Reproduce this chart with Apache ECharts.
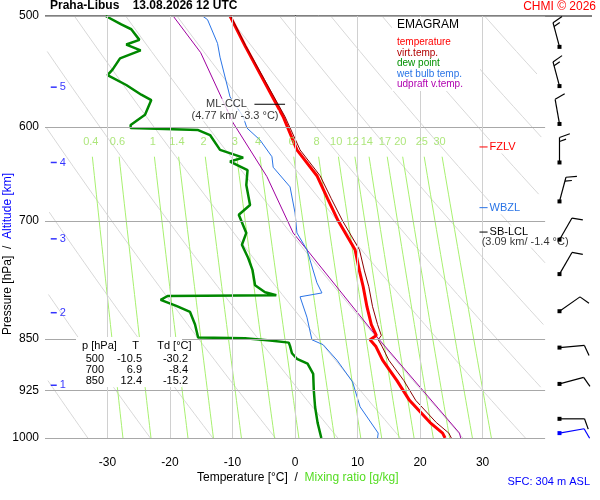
<!DOCTYPE html>
<html>
<head>
<meta charset="utf-8">
<script src="https://cdn.jsdelivr.net/npm/echarts@6/dist/echarts.min.js"></script>
<style>html,body{margin:0;padding:0;background:#fff}#main{width:600px;height:500px}</style>
</head>
<body>
<div id="main"></div>
<script>
// pressure levels [hPa] and profiles [°C]
var tempP = [1000, 992, 975, 940, 910, 880, 860, 851, 845, 830, 806, 780, 760, 734, 700, 675, 650, 623, 590, 555, 525, 500];
var tempT = [24.0, 23.6, 21.6, 18.3, 16.3, 14.0, 12.9, 12.0, 13.0, 12.2, 11.5, 10.9, 10.3, 9.6, 6.9, 5.2, 3.5, 0.3, -1.9, -5.1, -8.0, -10.4];
var virtT = [25.0, 24.6, 22.6, 19.3, 17.4, 15.0, 13.9, 13.3, 13.8, 13.2, 12.4, 11.8, 11.1, 10.3, 7.6, 5.8, 4.0, 0.8, -1.6, -4.9, -7.9, -10.3];

var dewP = [1000, 975, 950, 925, 900, 885, 878, 870, 860, 855, 852, 849, 848, 830, 813, 805, 797, 792, 791, 787, 778, 759, 744, 728, 714, 693, 682, 660, 644, 635, 631, 623, 608, 603, 601, 598, 588, 574, 569, 560, 551, 546, 536, 529, 524, 520, 511, 507, 500];
var dewT = [4.2, 3.6, 3.2, 3.0, 2.9, 2.0, 0.3, -0.5, -0.8, -1.0, -4.0, -8.0, -15.5, -16.0, -16.8, -19.0, -21.5, -20.4, -3.0, -4.8, -6.4, -6.8, -7.5, -8.5, -7.8, -9.0, -7.2, -7.8, -7.6, -10.4, -8.3, -12.0, -13.6, -15.5, -26.3, -26.3, -24.0, -23.0, -24.6, -27.0, -30.0, -29.2, -28.0, -24.7, -27.0, -24.9, -26.2, -27.8, -30.3];

var wbP = [1000, 992, 950, 912, 880, 858, 851, 820, 793, 788, 775, 734, 714, 691, 662, 641, 630, 613, 601, 590, 571, 535, 523, 503, 500];
var wbT = [13.2, 13.3, 10.4, 9.2, 6.7, 4.5, 2.7, 1.9, 0.8, 4.3, 3.5, 1.9, 0.3, 0.0, -0.8, -3.5, -3.7, -5.6, -7.7, -8.3, -10.4, -12.0, -12.4, -14.0, -14.8];

var parcelP = [1000, 992, 847, 734, 714, 651, 596, 531, 500];
var parcelT = [26.5, 26.3, 13.1, 1.9, -0.3, -4.5, -9.9, -15.1, -19.5];

// wind barbs: pressure, direction [deg], speed [kt]
var windP = [526, 561, 597, 636, 678, 722, 764, 812, 862, 915, 969, 992];
var windDir = [345, 345, 350, 0, 15, 30, 30, 55, 85, 75, 90, 80];
var windSpd = [15, 15, 10, 15, 15, 10, 10, 10, 10, 10, 10, 10];

var pressureTicks = [500, 600, 700, 850, 925, 1000];
var tempTicks = [-30, -20, -10, 0, 10, 20, 30];
var mixRatios = [0.4, 0.6, 1, 1.4, 2, 3, 4, 6, 8, 10, 12, 14, 17, 20, 25, 30];
var altKm = [1, 2, 3, 4, 5];
var altP = [917, 814, 721, 636, 562];

var tableHead = ['p [hPa]', 'T', 'Td [°C]'];
var tableP = [500, 700, 850];
var tableT = ['-10.5', '6.9', '12.4'];
var tableTd = ['-30.2', '-8.4', '-15.2'];

var FONT = 'Liberation Sans';
var TMAX = 40;

function zip(xs, ys) { return xs.map(function (x, i) { return [x, ys[i]]; }); }

// background reference lines of the diagram
function tdFromMix(w, p) {
    var e = w * p / (622 + w);
    var l = Math.log(e / 6.112);
    return 243.5 * l / (17.67 - l);
}
var bgSeries = [];
for (var th = 230; th <= 440; th += 10) {
    var pts = [];
    for (var p = 500; p <= 1000; p += 10) {
        var t = th * Math.pow(p / 1000, 0.286) - 273.15;
        if (t <= TMAX && t >= -40) pts.push([t, p]);
    }
    if (pts.length > 1) bgSeries.push({
        type: 'line', data: pts, showSymbol: false, silent: true, z: 1,
        lineStyle: { color: '#d8d8d8', width: 1 }
    });
}
mixRatios.forEach(function (w) {
    var pts = [];
    for (var p = 630; p <= 1000; p += 10) {
        var t = tdFromMix(w, p);
        if (t <= TMAX) pts.push([t, p]);
    }
    bgSeries.push({
        type: 'line', data: pts, showSymbol: false, silent: true, z: 1,
        lineStyle: { color: '#a8f070', width: 1 }
    });
});

var chart = echarts.init(document.getElementById('main'));

var hLines = pressureTicks.map(function (p) {
    return [{ coord: [-40, p], label: { show: true, position: 'start', formatter: String(p) } },
            { coord: [TMAX, p] }];
});
var vLines = tempTicks.map(function (t) { return [{ coord: [t, 500] }, { coord: [t, 1000] }]; });

function mark(name, color, t0, t1, p, txt, extra) {
    return {
        type: 'line', name: name, data: [[t0, p], [t1, p]], showSymbol: false, z: 6,
        lineStyle: { color: color, width: 1 },
        endLabel: Object.assign({ show: true, formatter: txt, color: color, fontFamily: FONT, fontSize: 11,
            backgroundColor: '#fff', padding: [1, 1], distance: 1 }, extra || {})
    };
}
function note(t, p, txt, align, color) {
    return {
        type: 'scatter', data: [[t, p]], symbolSize: 0, z: 6, silent: true,
        label: { show: true, position: 'inside', formatter: txt, align: align, color: color || '#000',
            fontFamily: FONT, fontSize: 11, backgroundColor: '#fff' }
    };
}

var series = bgSeries.concat([
    { type: 'line', data: [], markLine: { silent: true, symbol: 'none', animation: false,
        lineStyle: { color: '#a8a8a8', type: 'solid', width: 1 },
        label: { color: '#000', fontFamily: FONT, fontSize: 12, distance: 6 },
        data: hLines } },
    { type: 'line', data: [], markLine: { silent: true, symbol: 'none', animation: false,
        lineStyle: { color: '#d0d0d0', type: 'solid', width: 1 }, label: { show: false },
        data: vLines } },
    { type: 'scatter', silent: true, z: 5,
        data: mixRatios.map(function (w) { return [tdFromMix(w, 615), 615, w]; }),
        symbolSize: 0,
        label: { show: true, position: 'inside', formatter: function (d) { return d.value[2]; },
            color: '#98e05a', fontFamily: FONT, fontSize: 11 } },
    { type: 'line', data: zip(parcelT, parcelP), showSymbol: false, z: 3, lineStyle: { color: '#a000a0', width: 1 } },
    { type: 'line', data: zip(wbT, wbP), showSymbol: false, z: 3, lineStyle: { color: '#2a74e6', width: 1 } },
    { type: 'line', data: zip(dewT, dewP), showSymbol: false, z: 4, lineStyle: { color: '#008800', width: 2.5 } },
    { type: 'line', data: zip(tempT, tempP), showSymbol: false, z: 4, lineStyle: { color: '#ff0000', width: 3 } },
    { type: 'line', data: zip(virtT, tempP), showSymbol: false, z: 4, lineStyle: { color: '#8b0000', width: 1 } },
    { type: 'scatter', silent: true, z: 6, data: zip(altP.map(function () { return -38.6; }), altP).map(function (d, i) { return [d[0], d[1], altKm[i]]; }),
        symbol: 'rect', symbolSize: [6, 1.5], itemStyle: { color: '#0000ff' },
        label: { show: true, position: 'right', distance: 3, formatter: function (d) { return d.value[2]; },
            color: '#0000ff', fontFamily: FONT, fontSize: 11 } },
    mark('ccl', '#000', -6.5, -1.6, 578, '', { show: false }),
    note(-7.7, 578, 'ML-CCL', 'right'),
    note(-9.6, 589, '(4.77 km/ -3.3 °C)', 'center'),
    mark('fzlv', '#ff0000', 29.5, 30.8, 620, 'FZLV'),
    mark('wbzl', '#2a74e6', 29.5, 30.8, 685, 'WBZL'),
    mark('lcl', '#000', 29.5, 30.8, 713, 'SB-LCL'),
    note(36.8, 725, '(3.09 km/ -1.4 °C)', 'center'),
    { type: 'custom', z: 7, silent: true, clip: false,
        data: windP.map(function (p, i) { return [42.3, p, windDir[i], windSpd[i], i === windP.length - 1 ? 1 : 0]; }),
        renderItem: function (params, api) {
            var base = api.coord([api.value(0), api.value(1)]);
            var d = api.value(2) * Math.PI / 180, spd = api.value(3);
            var col = api.value(4) ? '#0000ff' : '#000';
            var sx = Math.sin(d), sy = -Math.cos(d);
            var L = 25;
            var tip = [base[0] + sx * L, base[1] + sy * L];
            var px = -sy, py = sx, a = 20 * Math.PI / 180;
            var bx = Math.cos(a) * px + Math.sin(a) * sx, by = Math.cos(a) * py + Math.sin(a) * sy;
            var kids = [
                { type: 'rect', shape: { x: base[0] - 2, y: base[1] - 2, width: 4, height: 4 }, style: { fill: col } },
                { type: 'line', shape: { x1: base[0], y1: base[1], x2: tip[0], y2: tip[1] }, style: { stroke: col, lineWidth: 1.2 } }
            ];
            var n = Math.floor(spd / 10), half = (spd % 10) >= 5, k = 0;
            for (var j = 0; j < n; j++, k++) {
                var ox = tip[0] - sx * 4 * k, oy = tip[1] - sy * 4 * k;
                kids.push({ type: 'line', shape: { x1: ox, y1: oy, x2: ox + bx * 11, y2: oy + by * 11 }, style: { stroke: col, lineWidth: 1.2 } });
            }
            if (half) {
                var hx = tip[0] - sx * 4 * k, hy = tip[1] - sy * 4 * k;
                kids.push({ type: 'line', shape: { x1: hx, y1: hy, x2: hx + bx * 7, y2: hy + by * 7 }, style: { stroke: col, lineWidth: 1.2 } });
            }
            return { type: 'group', children: kids };
        } }
]);

var tableLines = [tableHead.join('      ')];
var tableRich = tableP.map(function (p, i) { return '{a|' + p + '}{b|' + tableT[i] + '}{c|' + tableTd[i] + '}'; });

chart.setOption({
    animation: false,
    backgroundColor: '#fff',
    grid: { left: 45, right: 8, top: 16, bottom: 62 },
    xAxis: {
        type: 'value', min: -40, max: 47.5, interval: 10,
        axisLine: { show: false }, axisTick: { show: false }, splitLine: { show: false },
        axisLabel: { color: '#000', fontFamily: FONT, fontSize: 12, margin: 19,
            formatter: function (v) { return tempTicks.indexOf(v) >= 0 ? String(v) : ''; } }
    },
    yAxis: {
        type: 'log', min: 500, max: 1000, inverse: true,
        axisLine: { show: true, lineStyle: { color: '#000' } }, axisTick: { show: false },
        axisLabel: { show: false }, splitLine: { show: false }
    },
    series: series,
    graphic: [
        { type: 'line', shape: { x1: 45, y1: 16, x2: 592, y2: 16 }, style: { stroke: '#000', lineWidth: 1 } },
        { type: 'text', left: 50, top: 0, style: { text: 'Praha-Libus    13.08.2026 12 UTC', font: 'bold 12px ' + FONT, fill: '#000' } },
        { type: 'text', right: 4, top: 1, style: { text: 'CHMI © 2026', font: '12px ' + FONT, fill: '#ff0000' } },
        { type: 'rect', shape: { x: 392, y: 17, width: 88, height: 74 }, style: { fill: '#fff' }, z: 8 },
        { type: 'text', x: 397, y: 19, z: 9, style: { text: 'EMAGRAM', font: '12px ' + FONT, fill: '#000' } },
        { type: 'text', x: 397, y: 37, z: 9, style: {
            text: '{r|temperature}\n{d|virt.temp.}\n{g|dew point}\n{b|wet bulb temp.}\n{p|udpraft v.temp.}',
            font: '10px ' + FONT, lineHeight: 10.5,
            rich: { r: { fill: '#ff0000' }, d: { fill: '#b00000' }, g: { fill: '#009000' }, b: { fill: '#2a74e6' }, p: { fill: '#b000b0' } } } },
        { type: 'rect', shape: { x: 76, y: 337, width: 106, height: 50 }, style: { fill: '#fff' }, z: 8 },
        { type: 'text', x: 82, y: 340, z: 9, style: { text: 'p [hPa]     T      Td [°C]', font: '11px ' + FONT, fill: '#000' } },
        { type: 'text', x: 82, y: 353, z: 9, style: { text: tableRich.join('\n'), font: '11px ' + FONT, fill: '#000', lineHeight: 11,
            rich: { a: { width: 22, align: 'right' }, b: { width: 38, align: 'right' }, c: { width: 46, align: 'right' } } } },
        { type: 'text', x: 2, y: 335, rotation: Math.PI / 2, z: 9, style: {
            text: '{k|Pressure [hPa]}{k|  /  }{bl|Altitude [km]}', font: '12px ' + FONT,
            rich: { k: { fill: '#000' }, bl: { fill: '#0000ff' } } } },
        { type: 'text', x: 197, y: 472, style: {
            text: '{k|Temperature [°C]  /  }{g|Mixing ratio [g/kg]}', font: '12px ' + FONT,
            rich: { k: { fill: '#000' }, g: { fill: '#55dd22' } } } },
        { type: 'text', right: 10, y: 476, style: { text: 'SFC: 304 m ASL', font: '11px ' + FONT, fill: '#0000ff' } }
    ]
});
</script>
</body>
</html>
